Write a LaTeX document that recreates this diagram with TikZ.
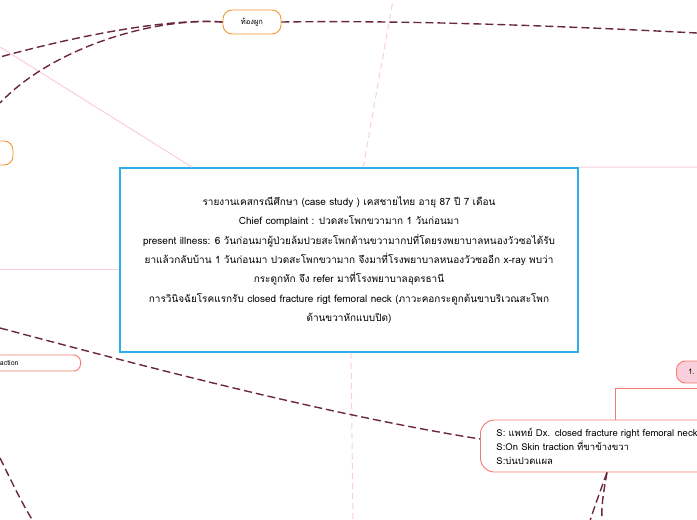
\documentclass[tikz,border=0pt]{standalone}
\usepackage{fontspec}
\setmainfont[Script=Thai]{Loma}

\definecolor{boxblue}{RGB}{48,174,234}
\definecolor{pillorange}{RGB}{247,150,50}
\definecolor{salmon}{RGB}{245,122,112}
\definecolor{pinkfill}{RGB}{249,207,220}
\definecolor{pinkline}{RGB}{250,204,224}
\definecolor{maroon}{RGB}{106,40,58}

\tikzset{
    pill/.style = {draw = #1, fill = white, rounded corners = 9pt, line width = 0.9pt,
        minimum height = 24pt, inner xsep = 10pt, font = \fontsize{7.5}{9}\selectfont},
    link/.style = {draw = maroon, line width = 1.4pt, dash pattern = on 8pt off 4pt},
    branch/.style = {draw = pinkline, line width = 1pt},
    branchdash/.style = {branch, dash pattern = on 6pt off 4pt},
}

\begin{document}
\begin{tikzpicture}[x = 1pt, y = -1pt]
            \useasboundingbox (0, 0) rectangle (697, 520);
            \clip (0, 0) rectangle (697, 520);

            \def\caseline{\fontsize{10}{19.3}\selectfont}

            \node[draw = boxblue, line width = 1.6pt, fill = white, minimum width = 458pt,
                minimum height = 184pt, align = center, font = \caseline] (case) at (349, 260)
                {รายงานเคสกรณีศึกษา (case study ) เคสชายไทย อายุ 87 ปี 7 เดือน\\
                Chief complaint : ปวดสะโพกขวามาก 1 วันก่อนมา\\
                present illness: 6 วันก่อนมาผู้ป่วยล้มปวยสะโพกด้านขวามากปที่โดยรงพยาบาลหนองวัวซอได้รับ\\
                ยาแล้วกลับบ้าน 1 วันก่อนมา ปวดสะโพกขวามาก จึงมาที่โรงพยาบาลหนองวัวซออีก x-ray พบว่า\\
                กระดูกหัก จึง refer มาที่โรงพยาบาลอุดรธานี\\
                การวินิจฉัยโรคแรกรับ closed fracture rigt femoral neck (ภาวะคอกระดูกต้นขาบริเวณสะโพก\\
                ด้านขวาหักแบบปิด)};

            \node[pill = pillorange, minimum width = 58pt] (constip) at (252, 22) {ท้องผูก};
            \node[pill = pillorange, minimum width = 70pt] (leftpill) at (-22, 153) {};
            \node[pill = salmon, minimum height = 16pt, rounded corners = 7pt, anchor = east,
                font = \fontsize{7}{8}\selectfont] (traction) at (81, 363) {traction\hspace*{52pt}};
            \node[pill = salmon, fill = pinkfill, minimum height = 22pt, anchor = west,
                text width = 60pt, align = left, inner xsep = 12pt] (one) at (676, 372) {1.};
            \node[draw = salmon, fill = white, line width = 0.9pt, rounded corners = 14pt,
                minimum height = 52pt, anchor = west, text width = 240pt, align = left,
                inner xsep = 16pt, font = \fontsize{9.5}{14}\selectfont] (sobj) at (480, 446)
                {S: แพทย์ Dx. closed fracture right femoral neck\\
                S:On Skin traction ที่ขาข้างขวา\\
                S:บ่นปวดแผล};

            \coordinate (pk1) at (0, 47);
            \coordinate (pk2) at (393, 0);
            \coordinate (pk3) at (697, 167);
            \coordinate (pk4) at (0, 269);
            \coordinate (pk5) at (353, 520);
            \coordinate (lk1) at (0, 57);
            \coordinate (lk2) at (0, 103);
            \coordinate (lk3) at (697, 33);
            \coordinate (lk4) at (0, 328);
            \coordinate (lk5) at (0, 458);
            \coordinate (lk6) at (33, 521);
            \coordinate (lk7) at (590, 521);
            \coordinate (lk8) at (602, 521);

            \draw[branch] ([xshift = 73pt]case.north west) -- (pk1);
            \draw[branchdash] ([xshift = 244pt]case.north west) -- (pk2);
            \draw[branch] (case.north east) -- (pk3);
            \draw[branch] ([yshift = -9pt]case.west) -- (pk4);
            \draw[branchdash] ([xshift = 2pt]case.south) -- (pk5);

            \draw[link] (constip.west) .. controls (170, 18) and (80, 35) .. (lk1);
            \draw[link] (constip.west) .. controls (150, 17) and (50, 50) .. (lk2);
            \draw[link] (constip.east) .. controls (420, 20) and (580, 27) .. (lk3);
            \draw[link] (lk4) .. controls (150, 368) and (330, 415) .. ([yshift = 7pt]sobj.west);
            \draw[link] (lk5) .. controls (10, 478) and (20, 500) .. (lk6);
            \draw[link] ([xshift = 127pt]sobj.south west) .. controls (600, 492) and (595, 505) .. (lk7);
            \draw[link] ([xshift = 127pt]sobj.south west) .. controls (604, 490) and (601, 505) .. (lk8);

            \draw[draw = salmon, line width = 0.9pt] (one.south) -- ++(0, 5) -| ([xshift = 135pt]sobj.north west);
        \end{tikzpicture}
\end{document}
